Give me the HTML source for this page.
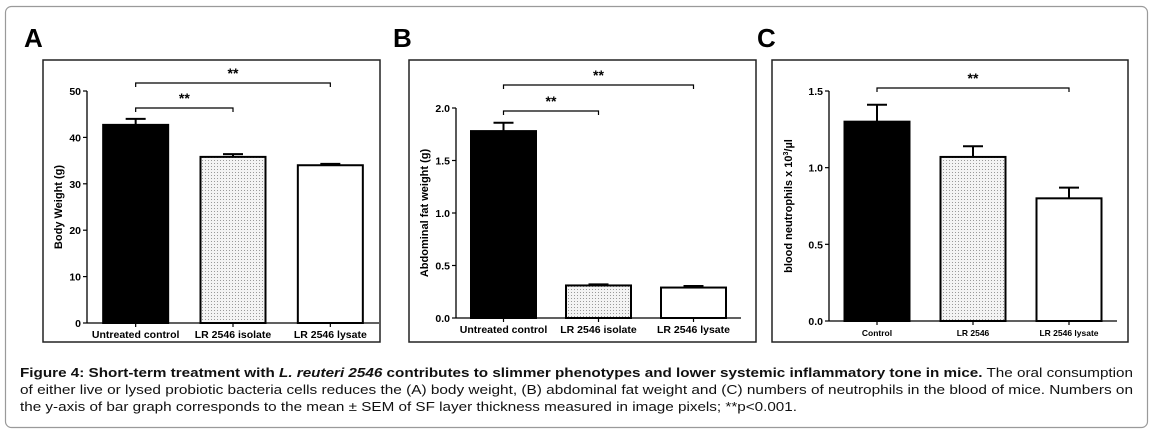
<!DOCTYPE html>
<html><head><meta charset="utf-8"><style>
html,body{margin:0;padding:0;background:#fff;}
svg{display:block;font-family:"Liberation Sans",Arial,sans-serif;}
</style></head><body>
<svg width="1153" height="433" viewBox="0 0 1153 433">
<defs>
<pattern id="dots" width="3" height="3" patternUnits="userSpaceOnUse">
<rect width="3" height="3" fill="#f4f4f4"/><rect x="1" y="1" width="1" height="1" fill="#9a9a9a"/>
</pattern>
</defs>
<rect x="5.5" y="6.5" width="1142" height="421" rx="6" fill="#fff" stroke="#9a9a9a" stroke-width="1.2"/>
<g id="charts"></g>
<g font-size="13" fill="#111">
<text x="20" y="377" textLength="1113" lengthAdjust="spacingAndGlyphs"><tspan font-weight="bold">Figure 4: Short-term treatment with </tspan><tspan font-weight="bold" font-style="italic">L. reuteri 2546</tspan><tspan font-weight="bold"> contributes to slimmer phenotypes and lower systemic inflammatory tone in mice.</tspan> The oral consumption</text>
<text x="20" y="394" textLength="1113" lengthAdjust="spacingAndGlyphs">of either live or lysed probiotic bacteria cells reduces the (A) body weight, (B) abdominal fat weight and (C) numbers of neutrophils in the blood of mice. Numbers on</text>
<text x="20" y="411" textLength="777" lengthAdjust="spacingAndGlyphs">the y-axis of bar graph corresponds to the mean ± SEM of SF layer thickness measured in image pixels; **p&lt;0.001.</text>
</g>
</svg>
<script>
const catsA = ["Untreated control","LR 2546 isolate","LR 2546 lysate"];
const valsA = [42.7, 35.8, 34.0];
const errA = [1.3, 0.6, 0.3];
const ticksA = [0,10,20,30,40,50];
const catsB = ["Untreated control","LR 2546 isolate","LR 2546 lysate"];
const valsB = [1.78, 0.31, 0.29];
const errB = [0.08, 0.01, 0.015];
const ticksB = ["0.0","0.5","1.0","1.5","2.0"];
const catsC = ["Control","LR 2546","LR 2546 lysate"];
const valsC = [1.30, 1.07, 0.80];
const errC = [0.11, 0.07, 0.07];
const ticksC = ["0.0","0.5","1.0","1.5"];

const NS="http://www.w3.org/2000/svg";
const root=document.getElementById('charts');
function mk(tag,attrs,parent){const e=document.createElementNS(NS,tag);for(const k in attrs)e.setAttribute(k,attrs[k]);(parent||root).appendChild(e);return e;}
const fills=["#000","url(#dots)","#fff"];

function panel(cfg){
  const g=mk('g',{});
  
  
  const L=mk('text',{x:cfg.lx,y:47,'font-size':26,'font-weight':'bold'},g);L.textContent=cfg.letter;
  
  
  const box=mk('rect',{x:cfg.bx0,y:60,width:cfg.bx1-cfg.bx0,height:282,fill:'none',stroke:'#222','stroke-width':1.5},g);
  
  
  const y=v=>cfg.y0-(v/cfg.max)*(cfg.y0-cfg.yTop);
  const ya=mk('line',{x1:cfg.ax,y1:y(cfg.max),x2:cfg.ax,y2:cfg.y0,stroke:'#000','stroke-width':1.3},g);
  
  
  const xa=mk('line',{x1:cfg.ax,y1:cfg.y0,x2:cfg.axEnd,y2:cfg.y0,stroke:'#000','stroke-width':1.3},g);
  
  
  cfg.ticks.forEach(t=>{
    const v=parseFloat(t);
    mk('line',{x1:cfg.ax-4,y1:y(v),x2:cfg.ax,y2:y(v),stroke:'#000','stroke-width':1.2},g);
    const tt=mk('text',{x:cfg.ax-6,y:y(v)+4,'font-size':10.5,'font-weight':'bold','text-anchor':'end'},g);
    tt.textContent=t;
    
    
  });
  const yt=mk('text',{transform:`translate(${cfg.ytx},${(cfg.y0+y(cfg.max))/2}) rotate(-90)`,'font-size':cfg.ytfs,'font-weight':'bold','text-anchor':'middle'},g);
  yt.innerHTML=cfg.ytitle;
  
  
  const n=cfg.cats.length;
  const step=(cfg.axEnd-cfg.ax)/n;
  const cx=i=>cfg.ax+step*(i+0.5);
  cfg.cats.forEach((c,i)=>{
    const x=cx(i), top=y(cfg.vals[i]), et=y(cfg.vals[i]+cfg.err[i]);
    const b=mk('rect',{x:x-cfg.bw/2,y:top,width:cfg.bw,height:cfg.y0-top,fill:fills[i],stroke:'#000','stroke-width':2},g);
    
    
    const e1=mk('line',{x1:x,y1:top,x2:x,y2:et,stroke:'#000','stroke-width':2},g);
    
    
    mk('line',{x1:x-10,y1:et,x2:x+10,y2:et,stroke:'#000','stroke-width':2},g);
    mk('line',{x1:x,y1:cfg.y0,x2:x,y2:cfg.y0+4,stroke:'#000','stroke-width':1.2},g);
    const ct=mk('text',{x:x,y:cfg.y0+15,'font-size':cfg.cfs,'font-weight':'bold','text-anchor':'middle'},g);
    ct.textContent=c;
    
    
  });
  cfg.brackets.forEach(br=>{
    const x1=cx(br[0]),x2=cx(br[1]);
    const p=mk('path',{d:`M${x1},${br[2]+4}V${br[2]}H${x2}V${br[2]+4}`,fill:'none',stroke:'#000','stroke-width':1.2},g);
    
    
    const s=mk('text',{x:(x1+x2)/2,y:br[2]-5,'font-size':14,'font-weight':'bold','text-anchor':'middle'},g);
    s.textContent='**';
    
    
  });
}
panel({letter:'A',lx:24,bx0:43,bx1:380,ax:87,axEnd:379,y0:323,yTop:91,max:50,ticks:ticksA,cats:catsA,vals:valsA,err:errA,bw:65,cfs:10.5,
  ytitle:'Body Weight (g)',ytx:62,ytfs:11,brackets:[[0,1,108],[0,2,83]]});
panel({letter:'B',lx:393,bx0:409,bx1:756,ax:456,axEnd:741,y0:318,yTop:108,max:2.0,ticks:ticksB,cats:catsB,vals:valsB,err:errB,bw:65,cfs:10.5,
  ytitle:'Abdominal fat weight (g)',ytx:428,ytfs:11,brackets:[[0,1,111],[0,2,85]]});
panel({letter:'C',lx:757,bx0:772,bx1:1128,ax:829,axEnd:1117,y0:321,yTop:91,max:1.5,ticks:ticksC,cats:catsC,vals:valsC,err:errC,bw:65,cfs:8.5,
  ytitle:'blood neutrophils x 10<tspan dy="-4" font-size="7">3</tspan><tspan dy="4">/µl</tspan>',ytx:792,ytfs:11,brackets:[[0,2,88]]});
</script>
</body></html>
